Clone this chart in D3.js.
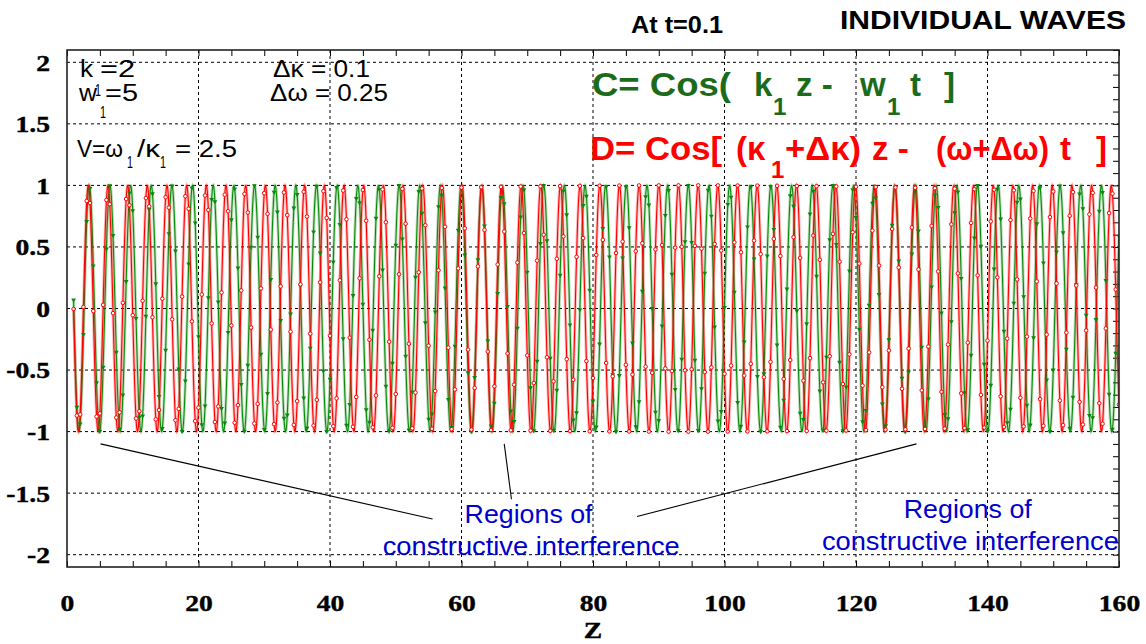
<!DOCTYPE html>
<html>
<head>
<meta charset="utf-8">
<script src="https://cdn.jsdelivr.net/npm/d3@7"></script>
<style>
	body{margin:0;background:#fff;}
	.grid line{stroke:#000;stroke-width:1;stroke-dasharray:3,3;}
</style>
</head>
<body>
<svg id="chart" width="1146" height="644"></svg>
<script>
// wave parameters, as printed on the chart
const k1 = 2, w1 = 5, dK = 0.1, dW = 0.25, tNow = 0.1;
// the traces run from z=1 to z=160, markers every half unit
const zFrom = 1, zTo = 160, zStep = 0.05, markStep = 0.5;

const xTickValues = [0, 20, 40, 60, 80, 100, 120, 140, 160];
const yTickValues = [-2, -1.5, -1, -0.5, 0, 0.5, 1, 1.5, 2];
const yTickLabels = ["-2", "-1.5", "-1", "-0.5", "0", "0.5", "1", "1.5", "2"];

// pointer lines for the annotations [z0, y0, z1, y1]
const pointerLines = [
	[5.1, -1.10, 55.6, -1.71],
	[66.5, -1.10, 67.6, -1.55],
	[86.7, -1.69, 129.2, -1.10]
];
// annotation text: [z centre, y baseline, text]
const regionNotes = [
	[70.2, -1.74, "Regions of"],
	[70.6, -2.00, "constructive interference"],
	[137.0, -1.70, "Regions of"],
	[137.4, -1.965, "constructive interference"]
];

const sans = "'Liberation Sans',Arial,Helvetica,sans-serif",
	serif = "'Liberation Serif','Times New Roman',Times,serif",
	waveGreen = "#0a8a0a",
	waveRed = "#ff0000",
	textGreen = "#1b6b1b";

const svg = d3.select("#chart"),
	plotL = 67, plotR = 1119, plotT = 50, plotB = 567;

const x = d3.scaleLinear().domain([0, 160]).range([plotL, plotR]),
	y = d3.scaleLinear().domain([-2.1, 2.1]).range([plotB, plotT]);

// grid
const grid = svg.append("g").attr("class", "grid");
grid.selectAll("line.h").data(yTickValues).enter().append("line")
	.attr("x1", plotL).attr("x2", plotR)
	.attr("y1", d => y(d)).attr("y2", d => y(d));
grid.selectAll("line.v").data(xTickValues.slice(1, -1)).enter().append("line")
	.attr("y1", plotT).attr("y2", plotB)
	.attr("x1", d => x(d)).attr("x2", d => x(d));

// minor ticks through d3 axes
function stripDomain(g){ g.select(".domain").remove(); g.selectAll("line").attr("stroke", "#000"); }
svg.append("g").attr("transform", "translate(0," + plotB + ")")
	.call(d3.axisTop(x).tickValues(d3.range(0, 161, 5)).tickSize(6).tickFormat(""))
	.call(stripDomain);
svg.append("g").attr("transform", "translate(0," + plotT + ")")
	.call(d3.axisBottom(x).tickValues(d3.range(0, 161, 5)).tickSize(6).tickFormat(""))
	.call(stripDomain);
svg.append("g").attr("transform", "translate(" + plotR + ",0)")
	.call(d3.axisLeft(y).tickValues(d3.range(-21, 22).map(v => v / 10)).tickSize(6).tickFormat(""))
	.call(stripDomain);

// waves
const zs = d3.range(zFrom, zTo + 1e-9, zStep),
	zMarks = d3.range(zFrom, zTo + 1e-9, markStep);
const waveC = z => Math.cos(k1 * z - w1 * tNow),
	waveD = z => Math.cos((k1 + dK) * z - (w1 + dW) * tNow);

const line = d3.line().x(d => x(d.z)).y(d => y(d.v));
const series = [
	{key: "C", fn: waveC, color: waveGreen},
	{key: "D", fn: waveD, color: waveRed}
];
svg.append("clipPath").attr("id", "plotclip")
	.append("rect").attr("x", plotL).attr("y", plotT).attr("width", plotR - plotL).attr("height", plotB - plotT);
const plot = svg.append("g").attr("clip-path", "url(#plotclip)");

series.forEach(function(s){
	let pts = zs.map(z => ({z: z, v: s.fn(z)}));
	plot.append("path").attr("d", line(pts))
		.attr("fill", "none").attr("stroke", s.color).attr("stroke-width", 3).attr("opacity", 0.28);
	plot.append("path").attr("d", line(pts))
		.attr("fill", "none").attr("stroke", s.color).attr("stroke-width", 1.1);
});
series.forEach(function(s){
	let marks = zMarks.map(z => ({z: z, v: s.fn(z)}));
	if(s.key === "C"){
		plot.selectAll("path.tri").data(marks).enter().append("path")
			.attr("d", d3.symbol(d3.symbolTriangle, 10))
			.attr("transform", d => "translate(" + x(d.z) + "," + y(d.v) + ") rotate(180)")
			.attr("fill", s.color);
	} else {
		plot.selectAll("circle.dot").data(marks).enter().append("circle")
			.attr("cx", d => x(d.z)).attr("cy", d => y(d.v)).attr("r", 1.8)
			.attr("fill", "#fff").attr("stroke", s.color).attr("stroke-width", 1);
	}
});

// frame
svg.append("rect").attr("x", plotL).attr("y", plotT).attr("width", plotR - plotL).attr("height", plotB - plotT)
	.attr("fill", "none").attr("stroke", "#222").attr("stroke-width", 1.6);

// serif bold label styling, inline so nothing overrides it
function serifLabel(sel){
	sel.style("font-family", serif)
		.style("font-weight", "700")
		.style("font-size", "24px")
		.style("fill", "#000")
		.style("stroke", "#000")
		.style("stroke-width", "0.4px");
}

// tick labels through d3 axes
const labelStretch = 1.15;
svg.append("g").attr("transform", "translate(0," + plotB + ")")
	.call(d3.axisBottom(x).tickValues(xTickValues).tickSize(0).tickPadding(0).tickFormat(d3.format("d")))
	.call(g => g.attr("font-family", null).attr("font-size", null))
	.call(g => g.select(".domain").remove())
	.call(g => g.selectAll("text")
		.attr("y", 44).attr("dy", 0)
		.attr("transform", "scale(" + labelStretch + ",1)")
		.call(serifLabel));
svg.append("g").attr("transform", "translate(" + plotL + ",0)")
	.call(d3.axisLeft(y).tickValues(yTickValues).tickSize(0).tickFormat((d, i) => yTickLabels[i]))
	.call(g => g.attr("font-family", null).attr("font-size", null))
	.call(g => g.select(".domain").remove())
	.call(g => g.selectAll("text")
		.attr("x", -17 / labelStretch).attr("dy", "0.33em")
		.attr("transform", "scale(" + labelStretch + ",1)")
		.call(serifLabel));
svg.append("text")
	.attr("transform", "translate(" + x(80) + ",638) scale(" + labelStretch + ",1)")
	.attr("text-anchor", "middle")
	.call(serifLabel)
	.text("Z");

// text helper
function put(px, py, str, o){
	let t = svg.append("text").attr("x", px).attr("y", py)
		.attr("font-family", o.family || sans)
		.attr("font-size", o.size)
		.attr("font-weight", o.bold ? "bold" : "normal")
		.attr("fill", o.color || "#000")
		.attr("text-anchor", o.anchor || "start")
		.text(str);
	if(o.len){ t.attr("textLength", o.len).attr("lengthAdjust", "spacingAndGlyphs"); }
	return t;
}

// titles
put(631, 33, "At t=0.1", {size: 23, bold: true, len: 92});
put(840, 29, "INDIVIDUAL WAVES", {size: 25, bold: true, len: 286});

// parameter notes
put(80, 77, "k", {size: 23, len: 13});
put(95, 96, "1", {size: 17, len: 6});
put(100, 77, "=2", {size: 23, len: 35});
put(79, 101, "w", {size: 23, len: 18});
put(100, 118, "1", {size: 17, len: 6});
put(105, 101, "=5", {size: 23, len: 33});
put(273, 77, "\u0394\u03ba = 0.1", {size: 23, len: 97});
put(270, 101, "\u0394\u03c9 = 0.25", {size: 23, len: 118});
put(77, 157, "V=\u03c9", {size: 23, len: 46});
put(127, 168, "1", {size: 17, len: 6});
put(137, 157, "/\u03ba", {size: 23, len: 23});
put(160, 168, "1", {size: 17, len: 6});
put(175, 157, "= 2.5", {size: 23, len: 62});

// formulas
const fSize = 33, sSize = 24;
put(592, 96, "C= Cos(", {size: fSize, bold: true, color: textGreen, len: 139});
put(754, 96, "k", {size: fSize, bold: true, color: textGreen});
put(773, 115, "1", {size: sSize, bold: true, color: textGreen});
put(796, 96, "z -", {size: fSize, bold: true, color: textGreen});
put(860, 96, "w", {size: fSize, bold: true, color: textGreen});
put(887, 115, "1", {size: sSize, bold: true, color: textGreen});
put(910, 96, "t", {size: fSize, bold: true, color: textGreen});
put(944, 96, "]", {size: fSize, bold: true, color: textGreen});

put(590, 160, "D= Cos[", {size: fSize, bold: true, color: waveRed, len: 132});
put(736, 160, "(\u03ba", {size: fSize, bold: true, color: waveRed});
put(771, 178, "1", {size: sSize, bold: true, color: waveRed});
put(785, 160, "+\u0394\u03ba)", {size: fSize, bold: true, color: waveRed, len: 76});
put(872, 160, "z -", {size: fSize, bold: true, color: waveRed});
put(936, 160, "(\u03c9+\u0394\u03c9)", {size: fSize, bold: true, color: waveRed, len: 113});
put(1060, 160, "t", {size: fSize, bold: true, color: waveRed});
put(1096, 160, "]", {size: fSize, bold: true, color: waveRed});

// region pointers
svg.append("g").selectAll("line").data(pointerLines).enter().append("line")
	.attr("x1", d => x(d[0])).attr("y1", d => y(d[1]))
	.attr("x2", d => x(d[2])).attr("y2", d => y(d[3]))
	.attr("stroke", "#000").attr("stroke-width", 1.1);
svg.append("g").selectAll("text").data(regionNotes).enter().append("text")
	.attr("x", d => x(d[0])).attr("y", d => y(d[1]))
	.attr("text-anchor", "middle").attr("font-family", sans).attr("font-size", 26)
	.attr("fill", "#0000cc")
	.attr("textLength", d => d[2].length > 12 ? 297 : 128).attr("lengthAdjust", "spacingAndGlyphs")
	.text(d => d[2]);
</script>
</body>
</html>
